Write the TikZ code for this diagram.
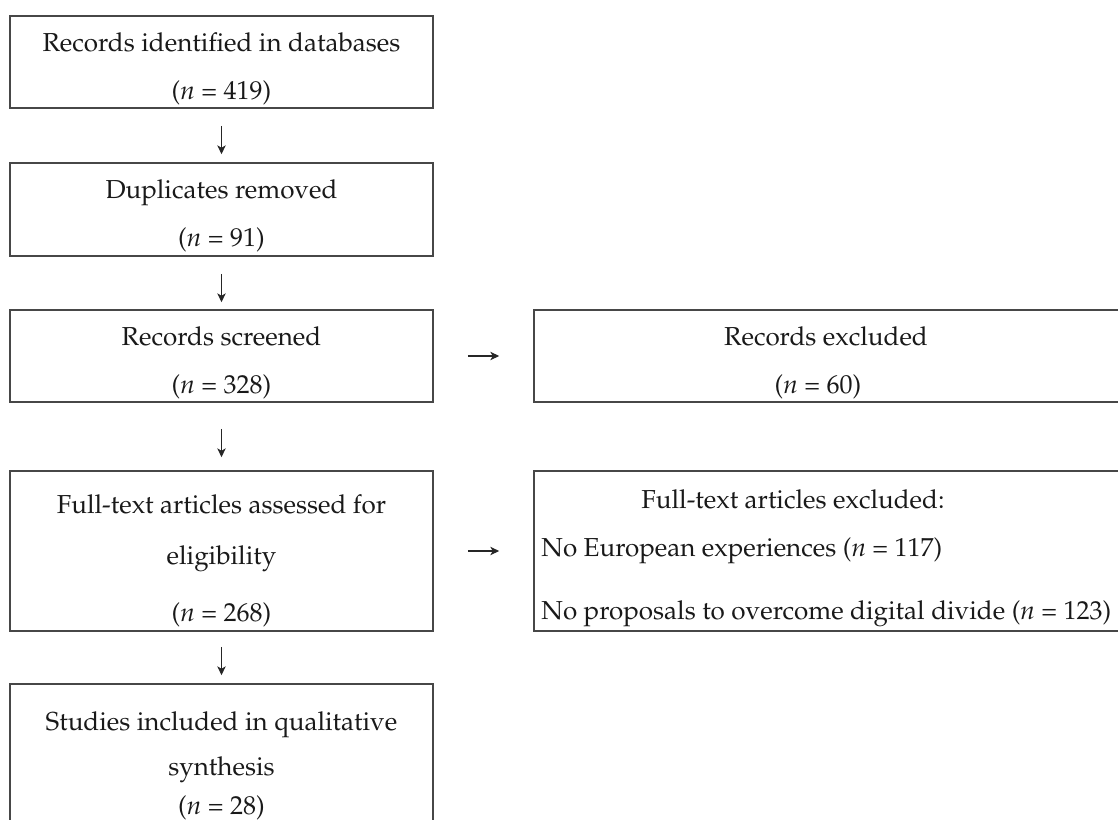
\documentclass[tikz,border=0pt]{standalone}
\usepackage[T1]{fontenc}
\usepackage{mathpazo}
\usetikzlibrary{arrows.meta,fit}
\begin{document}
\begin{tikzpicture}[x=0.5pt,y=-0.5pt,
  box/.style={draw=black!72, line width=0.85pt, inner sep=0pt},
  txt/.style={anchor=base, inner sep=0pt, font=\fontsize{13}{15}\selectfont, text=black!90},
  ltxt/.style={txt, anchor=base west},
  arr/.style={-{Stealth[length=4.4pt,width=4.2pt,inset=1.2pt]}, line width=0.6pt, draw=black!85}]
\useasboundingbox (0,0) rectangle (1118,819);
\clip (0,0) rectangle (1118,819);
% boxes
\node[box, fit={(10,16) (433,108)}] (b1) {};
\node[box, fit={(10,163) (433,256)}] (b2) {};
\node[box, fit={(10,310) (433,402)}] (b3) {};
\node[box, fit={(10,471) (433,631)}] (b4) {};
\node[box, fit={(10,684) (433,835)}] (b5) {};
\node[box, fit={(534,310) (1125,402)}] (r1) {};
\node[box, fit={(534,471) (1125,631)}] (r2) {};
% texts
\node[txt] (t1a) at (221.5,51) {Records identified in databases};
\node[txt] (t1b) at (221.5,99) {(\textit{n} = 419)};
\node[txt] (t2a) at (221.5,198) {Duplicates removed};
\node[txt] (t2b) at (221.5,246) {(\textit{n} = 91)};
\node[txt] (t3a) at (221.5,345) {Records screened};
\node[txt] (t3b) at (221.5,393) {(\textit{n} = 328)};
\node[txt] (t4a) at (221.5,513) {Full-text articles assessed for};
\node[txt] (t4b) at (221.5,564) {eligibility};
\node[txt] (t4c) at (221.5,621) {(\textit{n} = 268)};
\node[txt] (t5a) at (221.5,730) {Studies included in qualitative};
\node[txt] (t5b) at (221.5,775) {synthesis};
\node[txt] (t5c) at (221.5,814) {(\textit{n} = 28)};
\node[txt] (r1a) at (826,345) {Records excluded};
\node[txt] (r1b) at (818,393) {(\textit{n} = 60)};
\node[txt] (r2a) at (793,508) {Full-text articles excluded:};
\node[ltxt] (r2b) at (541,556) {No European experiences (\textit{n} = 117)};
\node[ltxt] (r2c) at (541,619) {No proposals to overcome digital divide (\textit{n} = 123)};
% connectors
\draw[arr, shorten <=8.5pt, shorten >=4pt] (b1.south) -- (b2.north);
\draw[arr, shorten <=8.5pt, shorten >=3.5pt] (b2.south) -- (b3.north);
\draw[arr, shorten <=13pt, shorten >=6.5pt] (b3.south) -- (b4.north);
\draw[arr, shorten <=7.5pt, shorten >=4pt] (b4.south) -- (b5.north);
\draw[arr, shorten <=17pt, shorten >=17pt] (b3.east) -- (r1.west);
\draw[arr, shorten <=17pt, shorten >=17pt] (b4.east) -- (r2.west);
\end{tikzpicture}
\end{document}
